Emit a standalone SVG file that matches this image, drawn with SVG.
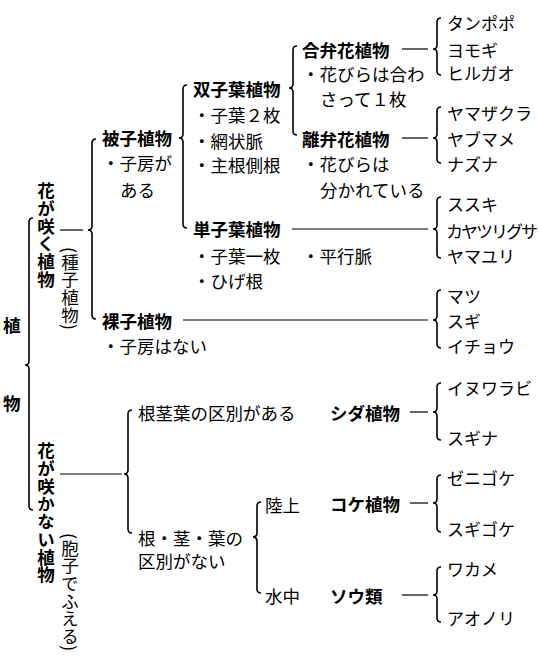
<svg xmlns="http://www.w3.org/2000/svg" width="540" height="659" viewBox="0 0 540 659">
<style>
text{font-family:"Noto Sans CJK JP","Noto Sans",sans-serif;font-size:17.5px;fill:#000;dominant-baseline:central}
.b{font-weight:bold}
.k{font-size:17px}
.v{writing-mode:vertical-rl;letter-spacing:0.2px}
.br{fill:none;stroke:#000;stroke-width:1.6}
.ln{fill:none;stroke:#000;stroke-width:1.2}
</style>
<rect width="540" height="659" fill="#fff"/>
<g id="connectors">
<path class="br" d="M33,218 Q29,218 29,222 L29,361 Q29,365 25,365 Q29,365 29,369 L29,506 Q29,510 33,510"/>
<path class="ln" d="M60,230 H83"/>
<path class="br" d="M96,139 Q92,139 92,143 L92,226 Q92,230 88,230 Q92,230 92,234 L92,315 Q92,319 96,319"/>
<path class="br" d="M187,85 Q183,85 183,89 L183,134 Q183,138 179,138 Q183,138 183,142 L183,224 Q183,228 187,228"/>
<path class="br" d="M297,46 Q293,46 293,50 L293,84 Q293,88 289,88 Q293,88 293,92 L293,131 Q293,135 297,135"/>
<path class="ln" d="M402,49 H428"/>
<path class="ln" d="M402,138 H428"/>
<path class="ln" d="M292,229 H428"/>
<path class="ln" d="M183,320 H428"/>
<path class="ln" d="M410,412 H428"/>
<path class="ln" d="M410,503 H428"/>
<path class="ln" d="M402,595 H428"/>
<path class="br" d="M441,18 Q437,18 437,22 L437,45 Q437,49 433,49 Q437,49 437,53 L437,71 Q437,75 441,75"/>
<path class="br" d="M441,107 Q437,107 437,111 L437,134 Q437,138 433,138 Q437,138 437,142 L437,159 Q437,163 441,163"/>
<path class="br" d="M441,197 Q437,197 437,201 L437,225 Q437,229 433,229 Q437,229 437,233 L437,254 Q437,258 441,258"/>
<path class="br" d="M441,290 Q437,290 437,294 L437,316 Q437,320 433,320 Q437,320 437,324 L437,344 Q437,348 441,348"/>
<path class="br" d="M441,383 Q437,383 437,387 L437,408 Q437,412 433,412 Q437,412 437,416 L437,436 Q437,440 441,440"/>
<path class="br" d="M441,475 Q437,475 437,479 L437,499 Q437,503 433,503 Q437,503 437,507 L437,528 Q437,532 441,532"/>
<path class="br" d="M441,567 Q437,567 437,571 L437,591 Q437,595 433,595 Q437,595 437,599 L437,618 Q437,622 441,622"/>
<path class="ln" d="M60,474 H122"/>
<path class="br" d="M132,410 Q128,410 128,414 L128,470 Q128,474 124,474 Q128,474 128,478 L128,529 Q128,533 132,533"/>
<path class="br" d="M261,502 Q257,502 257,506 L257,533 Q257,537 253,537 Q257,537 257,541 L257,589 Q257,593 261,593"/>
</g>
<g id="n-plants"><text class="b" x="3" y="324">植</text><text class="b" x="3" y="402">物</text></g>
<g id="n-flower"><text class="b v" x="46" y="182">花が咲く植物</text><text class="v" x="70" y="247">(種子植物)</text></g>
<g id="n-angio"><text class="b" x="102" y="137">被子植物</text><text x="102" y="162">・子房が</text><text x="120" y="189">ある</text></g>
<g id="n-dicot"><text class="b" x="193" y="88">双子葉植物</text><text x="193" y="114">・子葉２枚</text><text x="193" y="140">・網状脈</text><text x="193" y="164">・主根側根</text></g>
<g id="n-gamo"><text class="b" x="302" y="49">合弁花植物</text><text x="302" y="73">・花びらは合わ</text><text x="320" y="98">さって１枚</text></g>
<g id="n-poly"><text class="b" x="302" y="138">離弁花植物</text><text x="302" y="163">・花びらは</text><text x="320" y="189">分かれている</text></g>
<g id="n-mono"><text class="b" x="193" y="228">単子葉植物</text><text x="193" y="255">・子葉一枚</text><text x="193" y="280">・ひげ根</text><text x="302" y="255">・平行脈</text></g>
<g id="n-gymno"><text class="b" x="102" y="320">裸子植物</text><text x="102" y="345">・子房はない</text></g>
<g id="n-ex1"><text class="k" x="447" y="22">タンポポ</text><text class="k" x="447" y="49">ヨモギ</text><text class="k" x="447" y="72">ヒルガオ</text></g>
<g id="n-ex2"><text class="k" x="447" y="112">ヤマザクラ</text><text class="k" x="447" y="138">ヤブマメ</text><text class="k" x="447" y="163">ナズナ</text></g>
<g id="n-ex3"><text class="k" x="447" y="203">ススキ</text><text class="k" x="446" y="230" letter-spacing="-2">カヤツリグサ</text><text class="k" x="447" y="255">ヤマユリ</text></g>
<g id="n-ex4"><text class="k" x="447" y="295">マツ</text><text class="k" x="447" y="320">スギ</text><text class="k" x="447" y="345">イチョウ</text></g>
<g id="n-noflower"><text class="b v" x="46" y="442">花が咲かない植物</text><text class="v" x="70" y="533">(胞子でふえる)</text></g>
<g id="n-rsl"><text x="138" y="412">根茎葉の区別がある</text></g>
<g id="n-fern"><text class="b" x="330" y="412">シダ植物</text></g>
<g id="n-ex5"><text class="k" x="447" y="387">イヌワラビ</text><text class="k" x="447" y="437">スギナ</text></g>
<g id="n-nrsl"><text x="138" y="537">根・茎・葉の</text><text x="138" y="560">区別がない</text></g>
<g id="n-land"><text x="265" y="504">陸上</text></g>
<g id="n-moss"><text class="b" x="330" y="503">コケ植物</text></g>
<g id="n-ex6"><text class="k" x="447" y="477">ゼニゴケ</text><text class="k" x="447" y="528">スギゴケ</text></g>
<g id="n-water"><text x="265" y="595">水中</text></g>
<g id="n-algae"><text class="b" x="330" y="595">ソウ類</text></g>
<g id="n-ex7"><text class="k" x="447" y="568">ワカメ</text><text class="k" x="447" y="617">アオノリ</text></g>
</svg>
